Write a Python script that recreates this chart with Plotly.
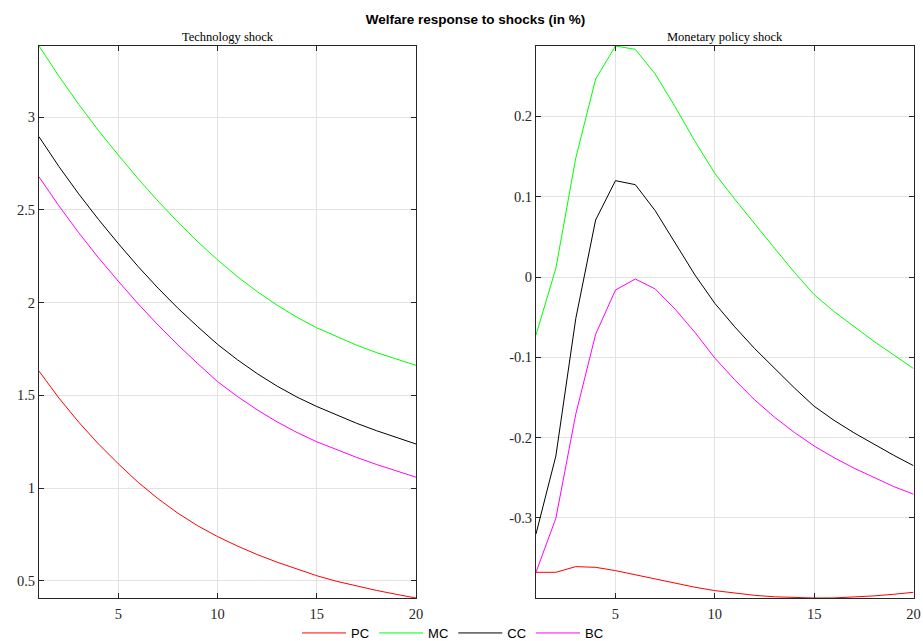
import plotly.graph_objects as go

# Horizon (quarters)
periods = list(range(1, 21))

# Welfare response to a technology shock (in %)
tech_pc = [1.631, 1.486, 1.356, 1.238, 1.131, 1.031, 0.943, 0.865, 0.797, 0.739,
           0.688, 0.642, 0.601, 0.563, 0.528, 0.498, 0.472, 0.449, 0.428, 0.408]
tech_mc = [3.383, 3.221, 3.069, 2.927, 2.795, 2.667, 2.547, 2.434, 2.328, 2.230,
           2.140, 2.059, 1.986, 1.921, 1.864, 1.816, 1.771, 1.731, 1.695, 1.662]
tech_cc = [2.894, 2.734, 2.586, 2.448, 2.318, 2.194, 2.078, 1.970, 1.870, 1.775,
           1.692, 1.617, 1.550, 1.491, 1.440, 1.393, 1.350, 1.310, 1.273, 1.238]
tech_bc = [2.678, 2.522, 2.377, 2.241, 2.115, 1.993, 1.879, 1.772, 1.671, 1.574,
           1.494, 1.422, 1.357, 1.300, 1.250, 1.206, 1.166, 1.128, 1.092, 1.059]

# Welfare response to a monetary policy shock (in %)
mon_pc = [-0.3678, -0.3678, -0.3607, -0.3616, -0.3657, -0.3711, -0.3765, -0.3815, -0.3864, -0.3906,
          -0.3940, -0.3965, -0.3983, -0.3994, -0.3998, -0.3997, -0.3988, -0.3972, -0.3952, -0.3927]
mon_mc = [-0.0722, 0.0108, 0.148, 0.2466, 0.2877, 0.2835, 0.2528, 0.212, 0.169, 0.129,
          0.097, 0.066, 0.036, 0.006, -0.022, -0.043, -0.062, -0.080, -0.097, -0.114]
mon_cc = [-0.320, -0.2229, -0.052, 0.071, 0.120, 0.115, 0.0826, 0.042, 0.0025, -0.0328,
          -0.062, -0.089, -0.114, -0.138, -0.161, -0.1785, -0.194, -0.2085, -0.222, -0.235]
mon_bc = [-0.3678, -0.3005, -0.171, -0.0714, -0.0162, -0.0025, -0.0149, -0.040, -0.069, -0.101,
          -0.128, -0.153, -0.1745, -0.1935, -0.2105, -0.225, -0.238, -0.250, -0.261, -0.2705]

series_names = ["PC", "MC", "CC", "BC"]
series_colors = ["#ff0000", "#00ff00", "#000000", "#ff00ff"]

x_ticks = [5, 10, 15, 20]
tech_yticks = [0.5, 1, 1.5, 2, 2.5, 3]
tech_ylabels = ["0.5", "1", "1.5", "2", "2.5", "3"]
mon_yticks = [-0.3, -0.2, -0.1, 0, 0.1, 0.2]
mon_ylabels = ["-0.3", "-0.2", "-0.1", "0", "0.1", "0.2"]

W, H = 923, 641
tech_data = [tech_pc, tech_mc, tech_cc, tech_bc]
mon_data = [mon_pc, mon_mc, mon_cc, mon_bc]

fig = go.Figure()
for name, color, ys in zip(series_names, series_colors, tech_data):
    fig.add_trace(go.Scatter(x=periods, y=ys, mode="lines", name=name,
                             line=dict(color=color, width=1), xaxis="x", yaxis="y",
                             legendgroup=name))
for name, color, ys in zip(series_names, series_colors, mon_data):
    fig.add_trace(go.Scatter(x=periods, y=ys, mode="lines", name=name,
                             line=dict(color=color, width=1), xaxis="x2", yaxis="y2",
                             legendgroup=name, showlegend=False))

serif = "Liberation Serif, Times New Roman, serif"
sans = "Liberation Sans, Arial, sans-serif"
axis_color = "#262626"
grid_color = "#e3e3e3"

def xaxis_style(domain, anchor):
    return dict(domain=domain, anchor=anchor, range=[1, 20], tickvals=x_ticks,
                ticks="inside", ticklen=5, tickcolor=axis_color, showline=True,
                linecolor=axis_color, linewidth=1, mirror="ticks", showgrid=True,
                gridcolor=grid_color, gridwidth=1, zeroline=False, automargin=False,
                ticklabelstandoff=3,
                tickfont=dict(family=serif, size=14.5, color=axis_color))

def yaxis_style(domain, anchor, data, vals, labels):
    lo = min(min(s) for s in data)
    hi = max(max(s) for s in data)
    return dict(domain=domain, anchor=anchor, range=[lo, hi], tickvals=vals,
                ticktext=labels, ticks="inside", ticklen=5, tickcolor=axis_color,
                showline=True, linecolor=axis_color, linewidth=1, mirror="ticks",
                showgrid=True, gridcolor=grid_color, gridwidth=1, zeroline=False,
                automargin=False,
                tickfont=dict(family=serif, size=14.5, color=axis_color))

y_dom = [1 - 598 / H, 1 - 46 / H]
left_dom = [39 / W, 416 / W]
right_dom = [536 / W, 913.5 / W]

fig.update_layout(
    width=W, height=H,
    margin=dict(l=0, r=0, t=0, b=0, autoexpand=False),
    paper_bgcolor="white", plot_bgcolor="white",
    xaxis=xaxis_style(left_dom, "y"),
    yaxis=yaxis_style(y_dom, "x", tech_data, tech_yticks, tech_ylabels),
    xaxis2=xaxis_style(right_dom, "y2"),
    yaxis2=yaxis_style(y_dom, "x2", mon_data, mon_yticks, mon_ylabels),
    title=dict(text="<b>Welfare response to shocks (in %)</b>", x=475.5 / W, xanchor="center",
               y=1 - 19 / H, yanchor="middle",
               font=dict(family=sans, size=13.5, color="#000000")),
    legend=dict(orientation="h", x=453 / W, xanchor="center", y=1 - 633 / H, yanchor="middle",
                font=dict(family=sans, size=13, color="#000000"),
                bgcolor="rgba(0,0,0,0)", itemwidth=44, tracegroupgap=0),
    showlegend=True,
    annotations=[
        dict(text="Technology shock", x=(left_dom[0] + left_dom[1]) / 2, y=1 - 37 / H,
             xref="paper", yref="paper", xanchor="center", yanchor="middle", showarrow=False,
             font=dict(family=serif, size=12.5, color="#000000")),
        dict(text="Monetary policy shock", x=(right_dom[0] + right_dom[1]) / 2, y=1 - 37 / H,
             xref="paper", yref="paper", xanchor="center", yanchor="middle", showarrow=False,
             font=dict(family=serif, size=12.5, color="#000000")),
    ],
)

fig.write_html("out.html")
